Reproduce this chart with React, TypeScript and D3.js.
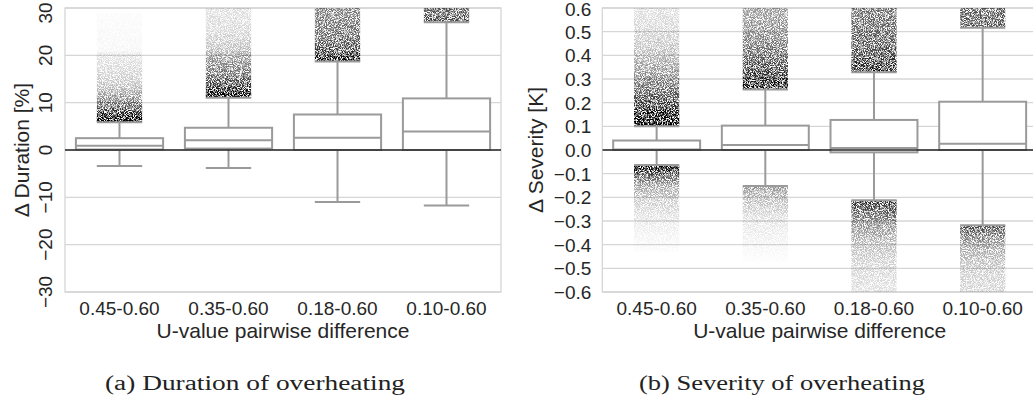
import React from "react";
import * as d3 from "d3";

// ---------- data ----------
const categories = ["0.45-0.60", "0.35-0.60", "0.18-0.60", "0.10-0.60"];

// Duration of overheating [%]
const durQ1 = [0.1, 0.3, 0, 0];
const durMedian = [0.9, 2.05, 2.6, 3.9];
const durQ3 = [2.5, 4.7, 7.5, 10.9];
const durWhiskerLow = [-3.4, -3.8, -11.0, -11.7];
const durWhiskerHigh = [5.85, 11.05, 18.7, 27.0];
// outlier clouds: [value, relative density]
const durUpperCloud: [number, number][][] = [
  [[5.85, 1.0], [7, 0.82], [9, 0.55], [11, 0.36], [13, 0.22], [16, 0.14], [20, 0.09], [21, 0.03], [29, 0.015]],
  [[11.05, 0.95], [13, 0.7], [16, 0.48], [20, 0.32], [21, 0.22], [25, 0.13], [30, 0.1]],
  [[18.7, 0.88], [20, 0.7], [22, 0.56], [25, 0.47], [30, 0.4]],
  [[27.0, 0.6], [30, 0.5]],
];
const durLowerCloud: [number, number][][] = [[], [], [], []];
const durTicks = [-30, -20, -10, 0, 10, 20, 30];

// Severity of overheating [K]
const sevQ1 = [0, 0, -0.01, 0];
const sevMedian = [0.002, 0.021, 0.008, 0.026];
const sevQ3 = [0.04, 0.103, 0.127, 0.204];
const sevWhiskerLow = [-0.063, -0.152, -0.212, -0.318];
const sevWhiskerHigh = [0.1, 0.256, 0.328, 0.517];
const sevUpperCloud: [number, number][][] = [
  [[0.1, 1.0], [0.15, 0.8], [0.2, 0.62], [0.3, 0.4], [0.4, 0.23], [0.5, 0.14], [0.6, 0.1]],
  [[0.256, 0.82], [0.3, 0.7], [0.4, 0.5], [0.5, 0.37], [0.6, 0.31]],
  [[0.328, 0.76], [0.4, 0.6], [0.5, 0.5], [0.6, 0.46]],
  [[0.517, 0.56], [0.6, 0.5]],
];
const sevLowerCloud: [number, number][][] = [
  [[-0.063, 1.0], [-0.1, 0.58], [-0.15, 0.32], [-0.2, 0.19], [-0.3, 0.07], [-0.4, 0.025], [-0.43, 0.01]],
  [[-0.152, 0.36], [-0.2, 0.23], [-0.3, 0.09], [-0.4, 0.035], [-0.47, 0.01]],
  [[-0.212, 0.7], [-0.3, 0.4], [-0.4, 0.21], [-0.5, 0.13], [-0.6, 0.1]],
  [[-0.318, 0.6], [-0.4, 0.31], [-0.5, 0.17], [-0.6, 0.13]],
];
const sevTicks = [-0.6, -0.5, -0.4, -0.3, -0.2, -0.1, 0, 0.1, 0.2, 0.3, 0.4, 0.5, 0.6];

// ---------- style ----------
const SANS = "'Liberation Sans', Arial, Helvetica, sans-serif";
const SERIF = "'Liberation Serif', 'Times New Roman', serif";
const GRID = "#d6d6d6";
const BOXC = "#9a9a9a";
const TICK_FS = 19;
const LABEL_FS = 21;

const fmtMinus = (s: string) => s.replace("-", "\u2212");

type PanelProps = {
  id: string;
  x0: number;
  x1: number;
  domain: [number, number];
  ticks: number[];
  tickFmt: (v: number) => string;
  rotateTicks: boolean;
  q1: number[];
  med: number[];
  q3: number[];
  wl: number[];
  wh: number[];
  upper: [number, number][][];
  lower: [number, number][][];
  ylabel: string;
  ylabelX: number;
};

const TOP = 8;
const BOTTOM = 292;

function Panel(p: PanelProps) {
  const x = d3.scaleBand<string>().domain(categories).range([p.x0, p.x1]).padding(0);
  const y = d3.scaleLinear().domain(p.domain).range([BOTTOM, TOP]);
  const bw = x.bandwidth() * 0.8;
  const cw = bw * 0.52;
  const clipId = `clip-${p.id}`;

  const clouds: { key: string; cx: number; stops: [number, number][] }[] = [];
  categories.forEach((c, i) => {
    const cx = x(c)! + x.bandwidth() / 2;
    if (p.upper[i].length) clouds.push({ key: `u${i}`, cx, stops: p.upper[i] });
    if (p.lower[i].length) clouds.push({ key: `l${i}`, cx, stops: p.lower[i] });
  });

  return (
    <g>
      <defs>
        <clipPath id={clipId}>
          <rect x={p.x0} y={TOP} width={p.x1 - p.x0} height={BOTTOM - TOP} />
        </clipPath>
        {clouds.map((cl) => {
          const ya = y(cl.stops[0][0]);
          const yb = y(cl.stops[cl.stops.length - 1][0]);
          return (
            <linearGradient
              key={cl.key}
              id={`g-${p.id}-${cl.key}`}
              gradientUnits="userSpaceOnUse"
              x1={0}
              x2={0}
              y1={ya}
              y2={yb}
            >
              {cl.stops.map(([v, d], k) => (
                <stop
                  key={k}
                  offset={(y(v) - ya) / (yb - ya)}
                  stopColor="#000"
                  stopOpacity={d}
                />
              ))}
            </linearGradient>
          );
        })}
      </defs>

      {/* grid */}
      {p.ticks.map((t) => (
        <line key={t} x1={p.x0} x2={p.x1} y1={y(t)} y2={y(t)} stroke={GRID} strokeWidth={1.3} />
      ))}
      <rect x={p.x0} y={TOP} width={p.x1 - p.x0} height={BOTTOM - TOP} fill="none" stroke={GRID} strokeWidth={1.3} />

      {/* tick labels */}
      {p.ticks.map((t) =>
        p.rotateTicks ? (
          <text
            key={t}
            transform={`translate(${p.x0 - 13},${Math.max(y(t), TOP + 5)}) rotate(-90)`}
            textAnchor="middle"
            fontFamily={SANS}
            fontSize={TICK_FS}
            fill="#262626"
          >
            {p.tickFmt(t)}
          </text>
        ) : (
          <text
            key={t}
            x={p.x0 - 11}
            y={Math.max(y(t), TOP + 1)}
            dy="0.36em"
            textAnchor="end"
            fontFamily={SANS}
            fontSize={TICK_FS}
            fill="#262626"
          >
            {p.tickFmt(t)}
          </text>
        )
      )}
      {categories.map((c) => (
        <text
          key={c}
          x={x(c)! + x.bandwidth() / 2}
          y={315}
          textAnchor="middle"
          fontFamily={SANS}
          fontSize={TICK_FS}
          fill="#262626"
        >
          {c}
        </text>
      ))}
      <text
        x={(p.x0 + p.x1) / 2}
        y={338}
        textAnchor="middle"
        fontFamily={SANS}
        fontSize={LABEL_FS}
        fill="#262626"
      >
        U-value pairwise difference
      </text>
      <text
        transform={`translate(${p.ylabelX},${(TOP + BOTTOM) / 2}) rotate(-90)`}
        textAnchor="middle"
        fontFamily={SANS}
        fontSize={LABEL_FS}
        fill="#262626"
      >
        {p.ylabel}
      </text>

      <g clipPath={`url(#${clipId})`}>
        {/* outlier clouds */}
        {clouds.map((cl) => {
          const ya = y(cl.stops[0][0]);
          const yb = y(cl.stops[cl.stops.length - 1][0]);
          return (
            <rect
              key={cl.key}
              x={cl.cx - cw / 2}
              y={Math.min(ya, yb)}
              width={cw}
              height={Math.abs(yb - ya)}
              fill={`url(#g-${p.id}-${cl.key})`}
              filter="url(#grain)"
            />
          );
        })}

        {/* boxes */}
        {categories.map((c, i) => {
          const cx = x(c)! + x.bandwidth() / 2;
          return (
            <g key={c} stroke={BOXC} strokeWidth={2} fill="none">
              <line x1={cx} x2={cx} y1={y(p.q3[i])} y2={y(p.wh[i])} />
              <line x1={cx} x2={cx} y1={y(p.q1[i])} y2={y(p.wl[i])} />
              <line x1={cx - cw / 2} x2={cx + cw / 2} y1={y(p.wh[i])} y2={y(p.wh[i])} />
              <line x1={cx - cw / 2} x2={cx + cw / 2} y1={y(p.wl[i])} y2={y(p.wl[i])} />
              <rect
                x={cx - bw / 2}
                y={y(p.q3[i])}
                width={bw}
                height={y(p.q1[i]) - y(p.q3[i])}
                fill="#fff"
              />
              <line x1={cx - bw / 2} x2={cx + bw / 2} y1={y(p.med[i])} y2={y(p.med[i])} />
            </g>
          );
        })}

        {/* zero reference line */}
        <line x1={p.x0} x2={p.x1} y1={y(0)} y2={y(0)} stroke="#262626" strokeWidth={1.5} />
      </g>
    </g>
  );
}

export default function App() {
  return (
    <svg
      width={1033}
      height={401}
      style={{ position: "absolute", left: 0, top: 0, background: "#fff" }}
    >
      <defs>
        <filter
          id="grain"
          x="-5%"
          y="-5%"
          width="110%"
          height="110%"
          colorInterpolationFilters="sRGB"
        >
          <feTurbulence type="fractalNoise" baseFrequency="1.13" numOctaves={2} seed={5} result="noise" />
          <feColorMatrix
            in="noise"
            type="matrix"
            values="0 0 0 0 0  0 0 0 0 0  0 0 0 0 0  4 0 0 0 -1.4"
            result="n"
          />
          <feComposite in="SourceGraphic" in2="n" operator="arithmetic" k1={1.3} k2={0} k3={0} k4={0} />
        </filter>
      </defs>
      <rect x={0} y={0} width={1033} height={401} fill="#fff" />
      <Panel
        id="dur"
        x0={65}
        x1={501}
        domain={[-30, 30]}
        ticks={durTicks}
        tickFmt={(v) => fmtMinus(String(v))}
        rotateTicks={true}
        q1={durQ1}
        med={durMedian}
        q3={durQ3}
        wl={durWhiskerLow}
        wh={durWhiskerHigh}
        upper={durUpperCloud}
        lower={durLowerCloud}
        ylabel={"\u0394 Duration [%]"}
        ylabelX={29}
      />
      <Panel
        id="sev"
        x0={602.3}
        x1={1037}
        domain={[-0.6, 0.6]}
        ticks={sevTicks}
        tickFmt={(v) => fmtMinus(v.toFixed(1))}
        rotateTicks={false}
        q1={sevQ1}
        med={sevMedian}
        q3={sevQ3}
        wl={sevWhiskerLow}
        wh={sevWhiskerHigh}
        upper={sevUpperCloud}
        lower={sevLowerCloud}
        ylabel={"\u0394 Severity [K]"}
        ylabelX={543}
      />
      <text x={255} y={390} textAnchor="middle" fontFamily={SERIF} fontSize={20} fill="#222" textLength={300} lengthAdjust="spacingAndGlyphs">
        (a) Duration of overheating
      </text>
      <text x={782} y={390} textAnchor="middle" fontFamily={SERIF} fontSize={20} fill="#222" textLength={286} lengthAdjust="spacingAndGlyphs">
        (b) Severity of overheating
      </text>
    </svg>
  );
}
